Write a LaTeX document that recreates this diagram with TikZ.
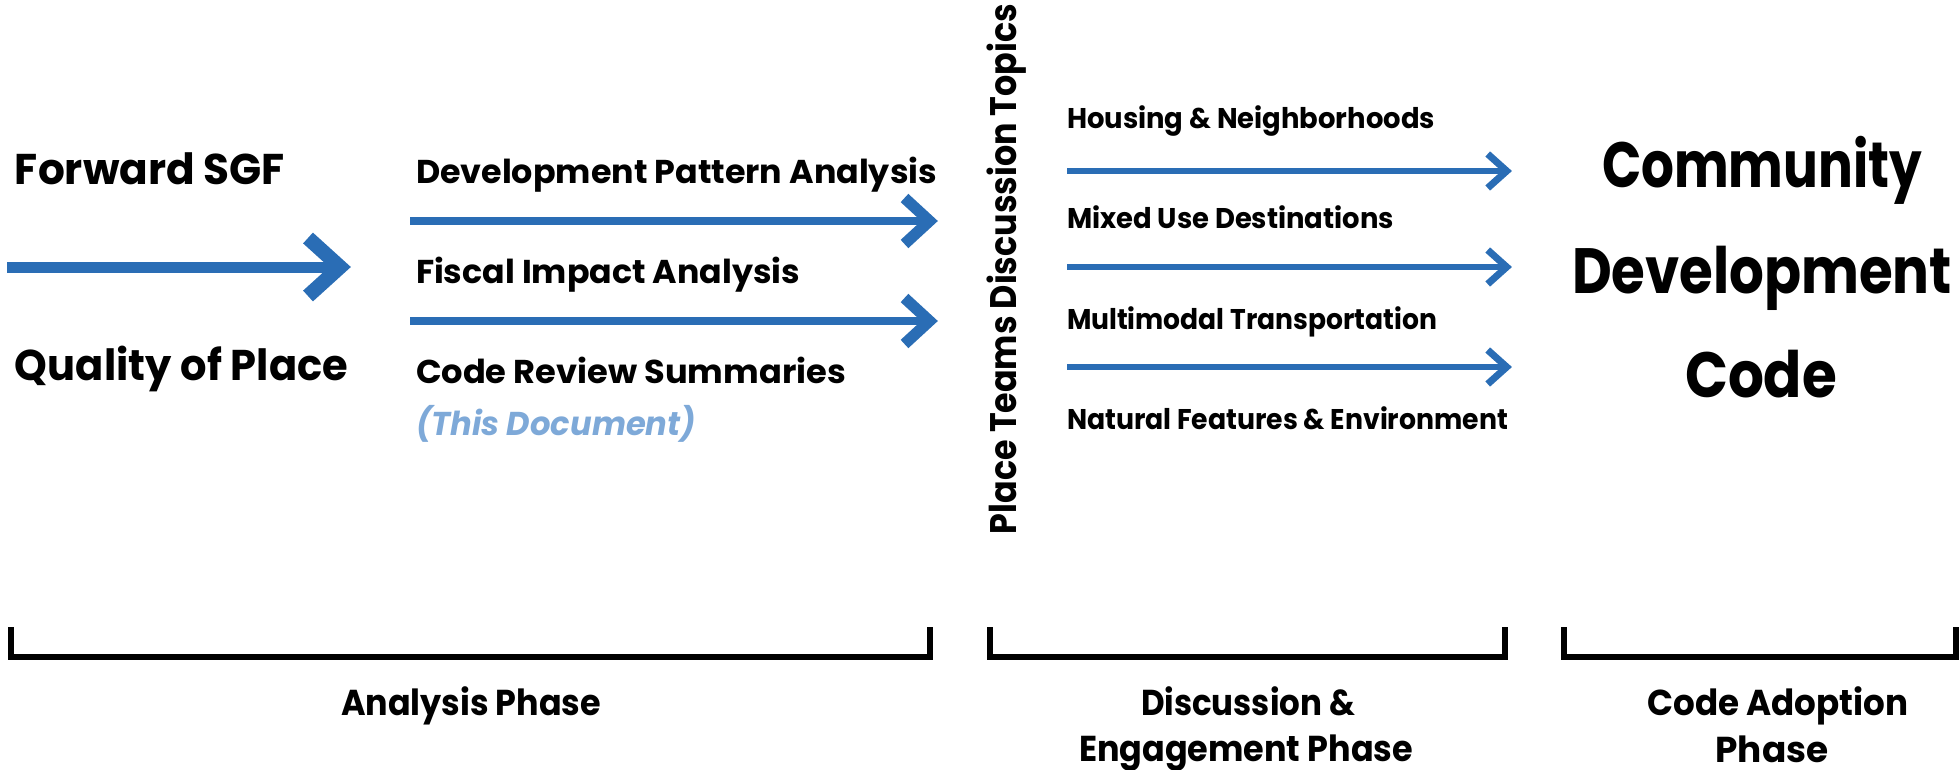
\documentclass[tikz,border=0pt]{standalone}
\usepackage{fontspec}
\usepackage{graphicx}
\setmainfont{Poppins}
\usetikzlibrary{calc}

\definecolor{flowblue}{HTML}{2A6DB5}
\definecolor{noteblue}{HTML}{7EA9D8}

% set a label to an exact width, keeping its height
\newcommand{\fitw}[2]{\resizebox{#1}{\height}{#2}}
% straight shaft ending in an open chevron head
% #1 colour, #2 start, #3 tip, #4 shaft width, #5 arm reach x, #6 arm reach y, #7 arm width
\newcommand{\flowarrow}[7]{%
  \draw[#1, line width=#4] (#2) -- (#3);
  \draw[#1, line width=#7, miter limit=10]
    ($(#3)+(-#5,-#6)$) -- (#3) -- ($(#3)+(-#5,#6)$);
}

\tikzset{
  lbl/.style={inner sep=0pt, outer sep=0pt, anchor=base west, text=black},
  ctr/.style={inner sep=0pt, outer sep=0pt, anchor=base, text=black},
  huge/.style={font=\fontsize{43}{50}\selectfont\bfseries},
  mid/.style={font=\fontsize{33}{40}\selectfont\bfseries},
  small/.style={font=\fontsize{28.5}{34}\selectfont\bfseries},
  side/.style={font=\fontsize{37}{44}\selectfont\bfseries},
  big/.style={font=\fontsize{64}{72}\selectfont\bfseries},
  phase/.style={font=\fontsize{36}{43}\selectfont\bfseries},
  bracket/.style={line width=6pt, line join=miter, black},
}

\begin{document}
\begin{tikzpicture}[x=1pt, y=-1pt]
\useasboundingbox (0,0) rectangle (1959,770);

% inputs
\node[lbl, huge] (fwd) at (15,185) {\fitw{270pt}{Forward SGF}};
\node[lbl, huge] (qop) at (15,380) {\fitw{333pt}{Quality of Place}};
\coordinate (inS) at (7,267);
\coordinate (inT) at (340,267);
\flowarrow{flowblue}{inS}{inT}{11pt}{32}{29}{14.6pt}

% analysis phase
\node[lbl, mid] (dpa) at (416,183) {\fitw{521pt}{Development Pattern Analysis}};
\node[lbl, mid] (fia) at (416,283) {\fitw{384pt}{Fiscal Impact Analysis}};
\node[lbl, mid] (crs) at (416,383) {\fitw{430pt}{Code Review Summaries}};
\node[lbl, mid, text=noteblue, font=\fontsize{33}{40}\selectfont\bfseries\itshape]
  (doc) at (416,435) {\fitw{280pt}{(This Document)}};
\coordinate (a1S) at (410,221);
\coordinate (a1T) at (929.5,221);
\coordinate (a2S) at (410,321);
\coordinate (a2T) at (929.5,321);
\flowarrow{flowblue}{a1S}{a1T}{8.3pt}{25}{23}{11.3pt}
\flowarrow{flowblue}{a2S}{a2T}{8.3pt}{25}{23}{11.3pt}

% discussion topics
\node[lbl, side, rotate=90] (teams) at (1016,534) {\fitw{530pt}{Place Teams Discussion Topics}};
\node[lbl, small] (hou) at (1067,129) {\fitw{368pt}{Housing \& Neighborhoods}};
\node[lbl, small] (mix) at (1067,229) {\fitw{327pt}{Mixed Use Destinations}};
\node[lbl, small] (mmt) at (1067,329) {\fitw{370pt}{Multimodal Transportation}};
\node[lbl, small] (nat) at (1067,429) {\fitw{441pt}{Natural Features \& Environment}};
\coordinate (t1S) at (1067,171);
\coordinate (t1T) at (1506.7,171);
\coordinate (t2S) at (1067,267);
\coordinate (t2T) at (1506.7,267);
\coordinate (t3S) at (1067,367);
\coordinate (t3T) at (1506.7,367);
\flowarrow{flowblue}{t1S}{t1T}{6pt}{19}{17}{7pt}
\flowarrow{flowblue}{t2S}{t2T}{6pt}{19}{17}{7pt}
\flowarrow{flowblue}{t3S}{t3T}{6pt}{19}{17}{7pt}

% outcome
\node[ctr, big] (cdc1) at (1762,188) {\fitw{320pt}{Community}};
\node[ctr, big] (cdc2) at (1762,293) {\fitw{380pt}{Development}};
\node[ctr, big] (cdc3) at (1761,397) {\fitw{152pt}{Code}};

% phase brackets
\coordinate (b1a) at (10.5,627);
\coordinate (b1b) at (930,627);
\coordinate (b2a) at (990,627);
\coordinate (b2b) at (1505,627);
\coordinate (b3a) at (1563.5,627);
\coordinate (b3b) at (1956,627);
\draw[bracket] (b1a) -- ++(0,30) -| (b1b);
\draw[bracket] (b2a) -- ++(0,30) -| (b2b);
\draw[bracket] (b3a) -- ++(0,30) -| (b3b);

\node[ctr, phase] (ph1) at (471,715) {\fitw{260pt}{Analysis Phase}};
\node[ctr, phase] (ph2a) at (1248,715) {\fitw{214pt}{Discussion \&}};
\node[ctr, phase] (ph2b) at (1246,761) {\fitw{334pt}{Engagement Phase}};
\node[ctr, phase] (ph3a) at (1778,715) {\fitw{261pt}{Code Adoption}};
\node[ctr, phase] (ph3b) at (1772,762) {\fitw{113pt}{Phase}};
\end{tikzpicture}
\end{document}
